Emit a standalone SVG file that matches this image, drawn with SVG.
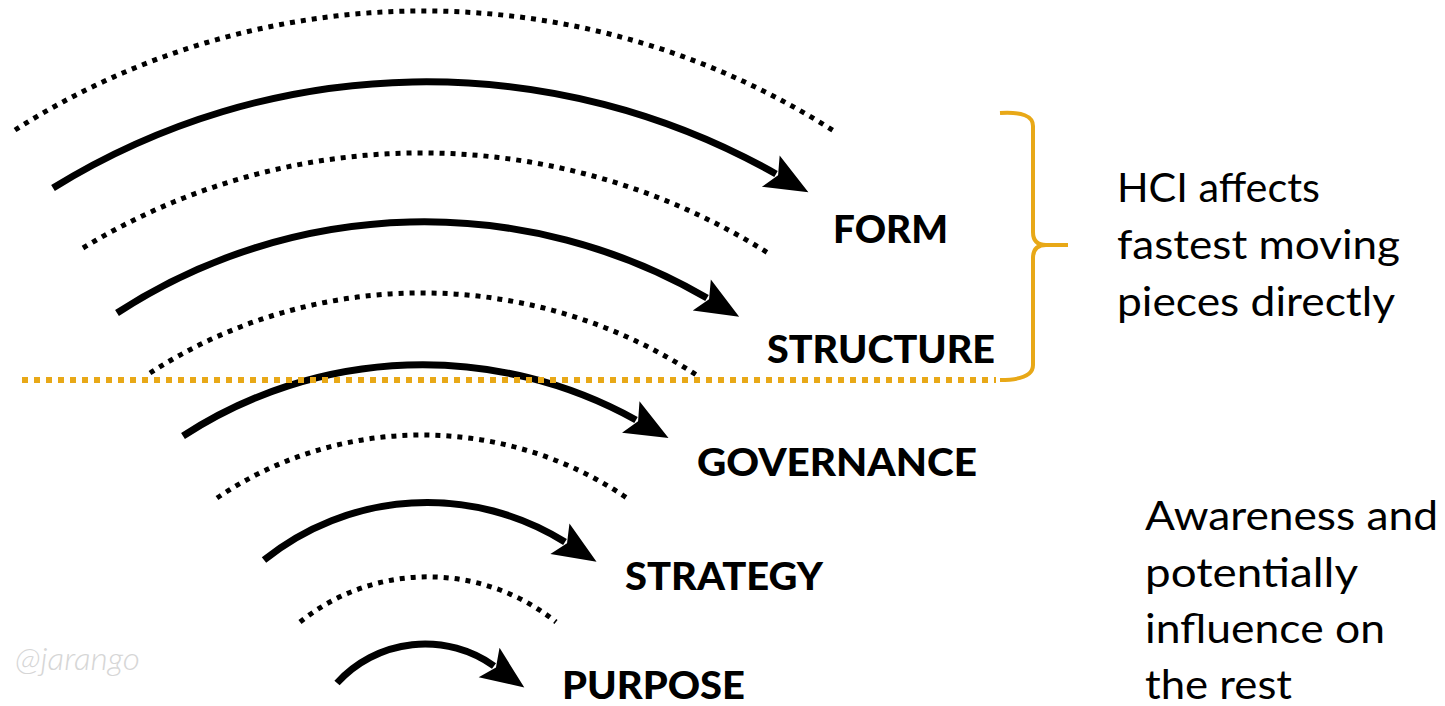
<svg xmlns="http://www.w3.org/2000/svg" width="1445" height="706" viewBox="0 0 1445 706">
  <style>
    .dots { fill: none; stroke: #000; stroke-width: 5; stroke-dasharray: 5 6; }
    .flow { fill: none; stroke: #000; stroke-width: 7; marker-end: url(#head); }
    .layer { font-family: Lato, "Liberation Sans", sans-serif; font-weight: 900; font-size: 38px; fill: #000; }
    .note { font-family: Lato, "Liberation Sans", sans-serif; font-size: 41px; fill: #000; }
    .gold { fill: none; stroke: #E8A817; }
  </style>
  <defs>
    <marker id="head" markerUnits="userSpaceOnUse" markerWidth="60" markerHeight="60" viewBox="-10 -20 50 40" refX="0" refY="0" orient="auto">
      <path d="M-5,-15 L31,0 L-5,15 L2,0 Z" fill="#000"/>
    </marker>
  </defs>
  <rect width="1445" height="706" fill="#fff"/>

  <!-- layered arcs, widest at the top -->
  <g id="connectors">
    <path class="dots" d="M15,130 A761,761 0 0 1 837,133"/>
    <path class="flow" d="M53,188 A709,709 0 0 1 776,174"/>
    <path class="dots" d="M83,248 A650,650 0 0 1 768,253"/>
    <path class="flow" d="M117,313 A563,563 0 0 1 707,298"/>
    <path class="dots" d="M150,373 A501,501 0 0 1 698,376"/>
    <path class="flow" d="M183,436 A439,439 0 0 1 636,420"/>
    <path class="dots" d="M217,498 A365,365 0 0 1 627,498"/>
    <path class="flow" d="M264,560 A260,260 0 0 1 565,542"/>
    <path class="dots" d="M300,622 A204,204 0 0 1 556,622"/>
    <path class="flow" d="M337,683 A119,119 0 0 1 494,666"/>
  </g>

  <!-- layer labels -->
  <g id="form"><text class="layer" x="833" y="243" textLength="115" lengthAdjust="spacingAndGlyphs">FORM</text></g>
  <g id="structure"><text class="layer" x="767" y="363" textLength="228" lengthAdjust="spacingAndGlyphs">STRUCTURE</text></g>
  <g id="governance"><text class="layer" x="697" y="476" textLength="280" lengthAdjust="spacingAndGlyphs">GOVERNANCE</text></g>
  <g id="strategy"><text class="layer" x="625" y="590" textLength="198" lengthAdjust="spacingAndGlyphs">STRATEGY</text></g>
  <g id="purpose"><text class="layer" x="562" y="699" textLength="183" lengthAdjust="spacingAndGlyphs">PURPOSE</text></g>

  <!-- signature -->
  <g id="signature">
    <text x="15" y="670" font-family="Lato, 'DejaVu Sans', sans-serif" font-style="italic" font-weight="300" font-size="31" fill="#d6d6d6" textLength="125" lengthAdjust="spacingAndGlyphs">@jarango</text>
  </g>

  <!-- boundary line and brace -->
  <g id="boundary">
    <line class="gold" x1="22" y1="380" x2="996" y2="380" stroke-width="6" stroke-dasharray="6 6"/>
  </g>
  <g id="brace">
    <path class="gold" stroke-width="4" d="M1000,113 Q1033,111 1033,126 L1033,232 Q1033,245 1046,245 L1068,245 M1046,245 Q1033,245 1033,258 L1033,365 Q1033,380 1000,380"/>
  </g>

  <!-- annotations -->
  <g id="note-hci">
    <text class="note" x="1117" y="202" textLength="203" lengthAdjust="spacingAndGlyphs">HCI affects</text>
    <text class="note" x="1117" y="259" textLength="283" lengthAdjust="spacingAndGlyphs">fastest moving</text>
    <text class="note" x="1117" y="316" textLength="278" lengthAdjust="spacingAndGlyphs">pieces directly</text>
  </g>
  <g id="note-awareness">
    <text class="note" x="1145" y="530" textLength="293" lengthAdjust="spacingAndGlyphs">Awareness and</text>
    <text class="note" x="1145" y="587" textLength="213" lengthAdjust="spacingAndGlyphs">potentially</text>
    <text class="note" x="1145" y="643" textLength="240" lengthAdjust="spacingAndGlyphs">influence on</text>
    <text class="note" x="1145" y="699" textLength="147" lengthAdjust="spacingAndGlyphs">the rest</text>
  </g>
</svg>
